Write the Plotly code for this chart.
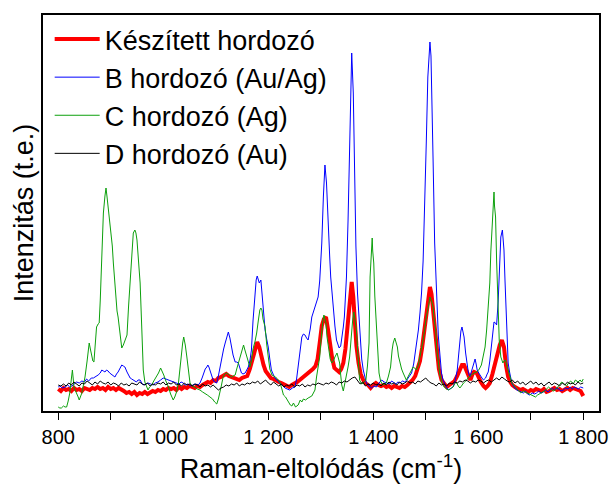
import plotly.graph_objects as go

# ---- data (wavenumber in cm-1, intensity in arbitrary units) ----
red_x = [800,805,810,815,820,825,830,835,840,845,850,855,860,865,870,875,880,885,890,895,900,905,910,915,920,925,930,935,940,945,950,955,960,965,970,975,980,985,990,995,1000,1005,1010,1015,1020,1025,1030,1035,1040,1045,1050,1055,1060,1065,1070,1075,1080,1085,1090,1095,1100,1105,1110,1115,1120,1125,1130,1135,1140,1145,1150,1155,1160,1165,1170,1175,1179,1183,1187,1191,1195,1200,1205,1210,1215,1220,1225,1230,1235,1240,1245,1250,1255,1260,1265,1270,1275,1280,1285,1290,1294,1298,1302,1306,1310,1314,1318,1322,1326,1331,1335,1339,1343,1347,1351,1355,1359,1362,1365,1368,1372,1376,1380,1385,1390,1395,1400,1405,1410,1415,1420,1425,1430,1435,1440,1445,1450,1455,1460,1465,1470,1475,1480,1485,1489,1493,1497,1501,1505,1508,1511,1514,1517,1521,1525,1530,1535,1540,1545,1550,1555,1560,1565,1569,1573,1577,1581,1585,1589,1592,1597,1601,1605,1610,1614,1618,1622,1627,1632,1637,1641,1645,1649,1653,1657,1661,1665,1670,1675,1680,1685,1690,1695,1700,1705,1710,1715,1720,1725,1730,1735,1740,1745,1750,1755,1760,1765,1770,1775,1780,1785,1790,1795,1800]
red_y = [22,20,23,21,22,20,23,21,22,20,23,22,21,23,22,24,22,23,21,24,22,23,21,23,22,20,18,19,17,19,16,18,17,19,17,18,20,19,21,20,22,21,23,22,23,21,24,22,24,23,25,24,23,25,24,26,27,29,28,31,30,33,34,36,37,35,34,33,31,31,33,34,35,42,51,61,69,64,54,46,40,36,33,32,30,29,28,27,25,24,26,27,29,31,33,35,38,40,42,45,52,68,85,92,94,81,65,52,43,40,39,42,48,62,82,108,129,114,88,65,48,37,32,28,26,23,26,28,26,25,26,24,25,23,25,24,23,25,24,26,28,31,35,42,50,63,81,100,117,124,117,100,81,58,42,31,27,24,26,28,30,35,42,46,46,40,34,31,37,39,38,33,29,25,23,25,28,37,48,59,66,71,64,45,34,29,26,24,23,21,22,20,19,21,20,22,21,20,22,19,20,22,23,21,22,20,22,23,21,23,22,21,20,15]

blue_x = [800,803,808,813,818,822,826,830,835,840,845,850,854,858,863,867,871,876,880,883,886,889,892,895,898,902,905,908,911,914,918,921,924,927,931,934,937,940,943,946,949,952,956,959,962,966,971,976,981,985,990,995,1000,1005,1010,1015,1019,1023,1026,1030,1034,1038,1042,1047,1052,1057,1062,1066,1070,1074,1077,1080,1083,1085,1087,1089,1092,1095,1098,1102,1105,1108,1111,1115,1118,1121,1124,1127,1130,1133,1137,1140,1143,1146,1149,1152,1156,1159,1162,1165,1168,1171,1175,1177,1179,1181,1183,1186,1189,1192,1194,1197,1200,1203,1206,1210,1213,1218,1222,1227,1232,1236,1241,1246,1251,1254,1257,1260,1264,1267,1270,1273,1276,1280,1283,1286,1289,1292,1295,1298,1302,1305,1308,1311,1314,1317,1319,1322,1324,1327,1330,1333,1335,1338,1340,1343,1345,1347,1349,1352,1354,1357,1359,1362,1365,1367,1370,1373,1375,1378,1381,1384,1387,1392,1397,1401,1406,1411,1416,1421,1426,1431,1435,1438,1443,1447,1451,1456,1460,1464,1468,1473,1477,1481,1484,1486,1489,1492,1495,1497,1499,1501,1504,1506,1508,1510,1511,1514,1517,1519,1522,1524,1527,1530,1533,1538,1543,1548,1552,1556,1560,1563,1565,1567,1569,1571,1573,1576,1578,1581,1584,1587,1590,1592,1594,1596,1598,1601,1603,1607,1610,1614,1617,1619,1622,1626,1628,1630,1633,1635,1638,1640,1643,1646,1649,1651,1653,1655,1657,1660,1664,1668,1673,1678,1682,1686,1690,1694,1698,1703,1707,1711,1715,1720,1724,1728,1733,1737,1741,1745,1749,1753,1758,1762,1766,1771,1775,1779,1783,1787,1791,1795,1800]
blue_y = [24,25,23,24,26,24,25,27,29,28,30,29,32,30,33,33,34,36,38,41,40,39,41,40,38,36,35,34,37,39,43,46,45,44,39,35,33,32,31,30,29,31,31,28,26,27,28,27,26,28,29,31,33,32,31,30,29,28,28,27,29,28,26,27,25,26,27,26,28,33,38,42,44,46,44,41,35,31,29,28,35,44,54,62,68,74,79,73,64,56,49,49,48,42,38,37,38,41,44,50,61,90,121,131,135,130,128,131,111,92,81,72,64,52,41,36,33,30,28,25,23,22,21,23,24,32,44,60,74,77,76,73,71,82,94,99,104,108,114,130,168,214,246,228,184,155,134,114,101,85,71,66,63,65,71,84,94,112,134,190,234,318,358,318,218,165,118,88,68,52,41,34,28,25,23,25,24,28,31,29,28,27,30,29,27,29,28,30,29,31,34,38,47,61,72,81,98,118,150,184,225,268,334,360,369,355,334,251,168,132,101,75,51,38,31,25,21,23,24,30,41,58,71,80,84,80,74,58,48,39,34,39,44,49,52,47,41,38,36,33,31,33,37,39,50,68,80,89,88,86,110,134,174,181,161,130,101,72,48,38,28,24,21,20,19,18,20,17,16,18,17,18,20,18,19,21,19,21,23,21,23,22,20,21,23,22,24,22,24,23,22,24,23]

green_x = [800,803,806,810,813,816,819,822,825,827,829,830,833,835,838,840,843,845,848,851,855,859,862,864,866,868,871,873,876,878,880,883,886,889,891,893,895,898,900,903,905,908,910,912,914,917,921,924,927,929,931,934,938,941,943,946,948,950,953,956,959,962,965,968,971,974,978,982,987,991,995,998,1001,1005,1010,1014,1019,1022,1026,1029,1032,1035,1037,1039,1042,1045,1048,1051,1055,1060,1065,1070,1075,1079,1084,1089,1094,1098,1102,1105,1108,1111,1114,1117,1121,1126,1130,1133,1137,1140,1143,1146,1149,1151,1153,1155,1158,1162,1165,1168,1171,1175,1178,1181,1184,1186,1188,1190,1194,1197,1200,1203,1207,1210,1214,1219,1222,1226,1229,1233,1238,1242,1245,1248,1252,1257,1261,1264,1267,1271,1276,1280,1283,1286,1289,1292,1295,1298,1300,1302,1304,1306,1308,1310,1312,1315,1318,1321,1324,1327,1329,1331,1333,1336,1338,1340,1343,1346,1349,1352,1355,1357,1359,1361,1363,1365,1368,1371,1374,1378,1381,1384,1386,1389,1392,1394,1396,1398,1399,1401,1403,1406,1408,1411,1414,1418,1422,1425,1429,1433,1436,1438,1441,1443,1446,1448,1451,1454,1457,1460,1463,1467,1470,1473,1476,1479,1482,1486,1489,1492,1495,1498,1501,1505,1508,1511,1514,1516,1519,1521,1524,1527,1531,1535,1540,1544,1549,1552,1555,1558,1562,1565,1568,1572,1578,1582,1587,1592,1597,1601,1606,1609,1613,1616,1619,1622,1624,1626,1628,1630,1631,1633,1635,1638,1640,1643,1645,1647,1649,1652,1654,1657,1661,1664,1667,1671,1676,1681,1686,1690,1695,1700,1705,1709,1713,1717,1721,1726,1730,1734,1738,1743,1747,1751,1755,1759,1764,1768,1772,1776,1781,1785,1790,1794,1797,1800]
green_y = [4,3,3,5,4,4,10,18,32,41,30,23,20,18,14,11,15,18,26,34,50,68,60,54,50,49,70,84,87,88,110,150,198,215,223,214,204,196,184,165,148,125,108,100,94,80,63,66,71,73,76,105,141,165,178,181,178,171,152,128,85,41,29,24,21,24,26,30,34,38,43,40,36,30,24,17,11,14,20,28,45,61,68,74,66,54,40,28,25,24,22,21,19,18,16,14,12,9,7,12,18,26,34,37,38,36,34,35,36,42,48,54,59,63,66,62,56,48,44,50,62,70,78,90,101,103,101,92,84,67,51,42,36,35,34,31,29,22,16,14,10,6,5,8,4,6,11,9,12,11,13,14,15,18,21,34,44,54,68,81,90,96,93,88,74,61,52,48,50,54,57,58,54,48,36,26,20,28,34,44,54,70,81,92,99,92,81,55,31,27,28,30,31,45,68,134,158,173,160,148,115,84,55,38,30,26,27,28,35,44,61,68,73,70,64,55,48,42,38,34,31,35,38,42,44,43,41,46,54,62,71,82,94,104,114,110,104,92,81,62,48,36,28,24,22,21,23,24,27,29,25,23,25,28,31,34,36,38,39,41,46,54,64,81,100,128,160,184,205,219,205,194,150,101,70,54,50,48,50,51,46,41,34,28,26,24,21,18,20,19,17,16,15,14,16,17,18,20,22,24,22,20,21,24,26,29,27,25,28,30,27,31,29,31,29,32,30]

black_x = list(range(800, 1801, 5))
black_y = [26,25,27,25,28,26,29,27,25,28,27,30,28,26,29,27,30,28,27,29,26,28,27,25,28,26,27,25,28,27,26,29,27,26,28,25,27,26,28,27,29,26,28,27,29,26,27,25,28,26,27,25,27,26,24,27,25,26,24,26,23,21,23,24,26,25,27,26,28,25,27,26,28,27,29,28,30,27,29,31,28,26,29,27,25,27,24,26,25,27,24,26,25,27,24,26,25,27,26,28,27,26,28,27,29,28,26,29,28,30,29,31,33,34,30,27,29,25,27,26,28,26,27,25,28,26,29,27,28,26,29,27,28,30,28,29,27,30,29,31,33,30,28,27,25,28,26,27,25,28,27,29,28,30,29,31,30,28,30,29,31,30,28,30,31,29,31,33,31,34,32,30,29,31,28,30,27,29,26,28,30,27,29,26,28,25,27,29,26,28,27,25,28,26,29,27,28,26,29,27,28]

names = ["Készített hordozó", "B hordozó (Au/Ag)", "C hordozó (Ag)", "D hordozó (Au)"]
colors = ["#ff0000", "#0000ff", "#0ca00c", "#000000"]
widths = [4, 1, 1, 1]
xs = [red_x, blue_x, green_x, black_x]
ys = [red_y, blue_y, green_y, black_y]

FONT = "Arial, Liberation Sans, sans-serif"

fig = go.Figure()
for n, c, w, x, y in zip(names, colors, widths, xs, ys):
    fig.add_trace(go.Scatter(x=x, y=y, mode="lines", name=n,
                             line=dict(color=c, width=w)))

fig.update_layout(
    width=612, height=484,
    margin=dict(l=43, r=13, t=15, b=73, autoexpand=False),
    paper_bgcolor="white", plot_bgcolor="white",
    separators=", ",
    font=dict(family=FONT, color="black"),
    showlegend=True,
    legend=dict(x=0.012, y=1.0, xanchor="left", yanchor="top",
                bgcolor="rgba(0,0,0,0)", font=dict(size=27, family=FONT),
                itemwidth=45, tracegroupgap=0),
)
fig.update_xaxes(
    automargin=False,
    range=[771, 1830], tick0=800, dtick=200, ticks="outside", ticklen=7, tickwidth=1.3,
    tickcolor="black",
    minor=dict(tick0=800, dtick=100, ticks="outside", ticklen=7, tickwidth=1.3, tickcolor="black"),
    showline=True, mirror=True, linecolor="black", linewidth=1.5, showgrid=False, zeroline=False,
    separatethousands=True, tickfont=dict(size=20, family=FONT),
    title=dict(text="Raman-eltolódás (cm<sup>-1</sup>)", font=dict(size=27, family=FONT), standoff=17),
)
fig.update_yaxes(
    automargin=False,
    range=[0, 396], showticklabels=False, ticks="", showline=True, mirror=True,
    linecolor="black", linewidth=1.5, showgrid=False, zeroline=False,
    title=dict(text="Intenzitás (t.e.)", font=dict(size=27, family=FONT), standoff=0),
)

fig.write_html("out.html", config={"displayModeBar": False},
               post_script="document.body.style.margin='0';")
